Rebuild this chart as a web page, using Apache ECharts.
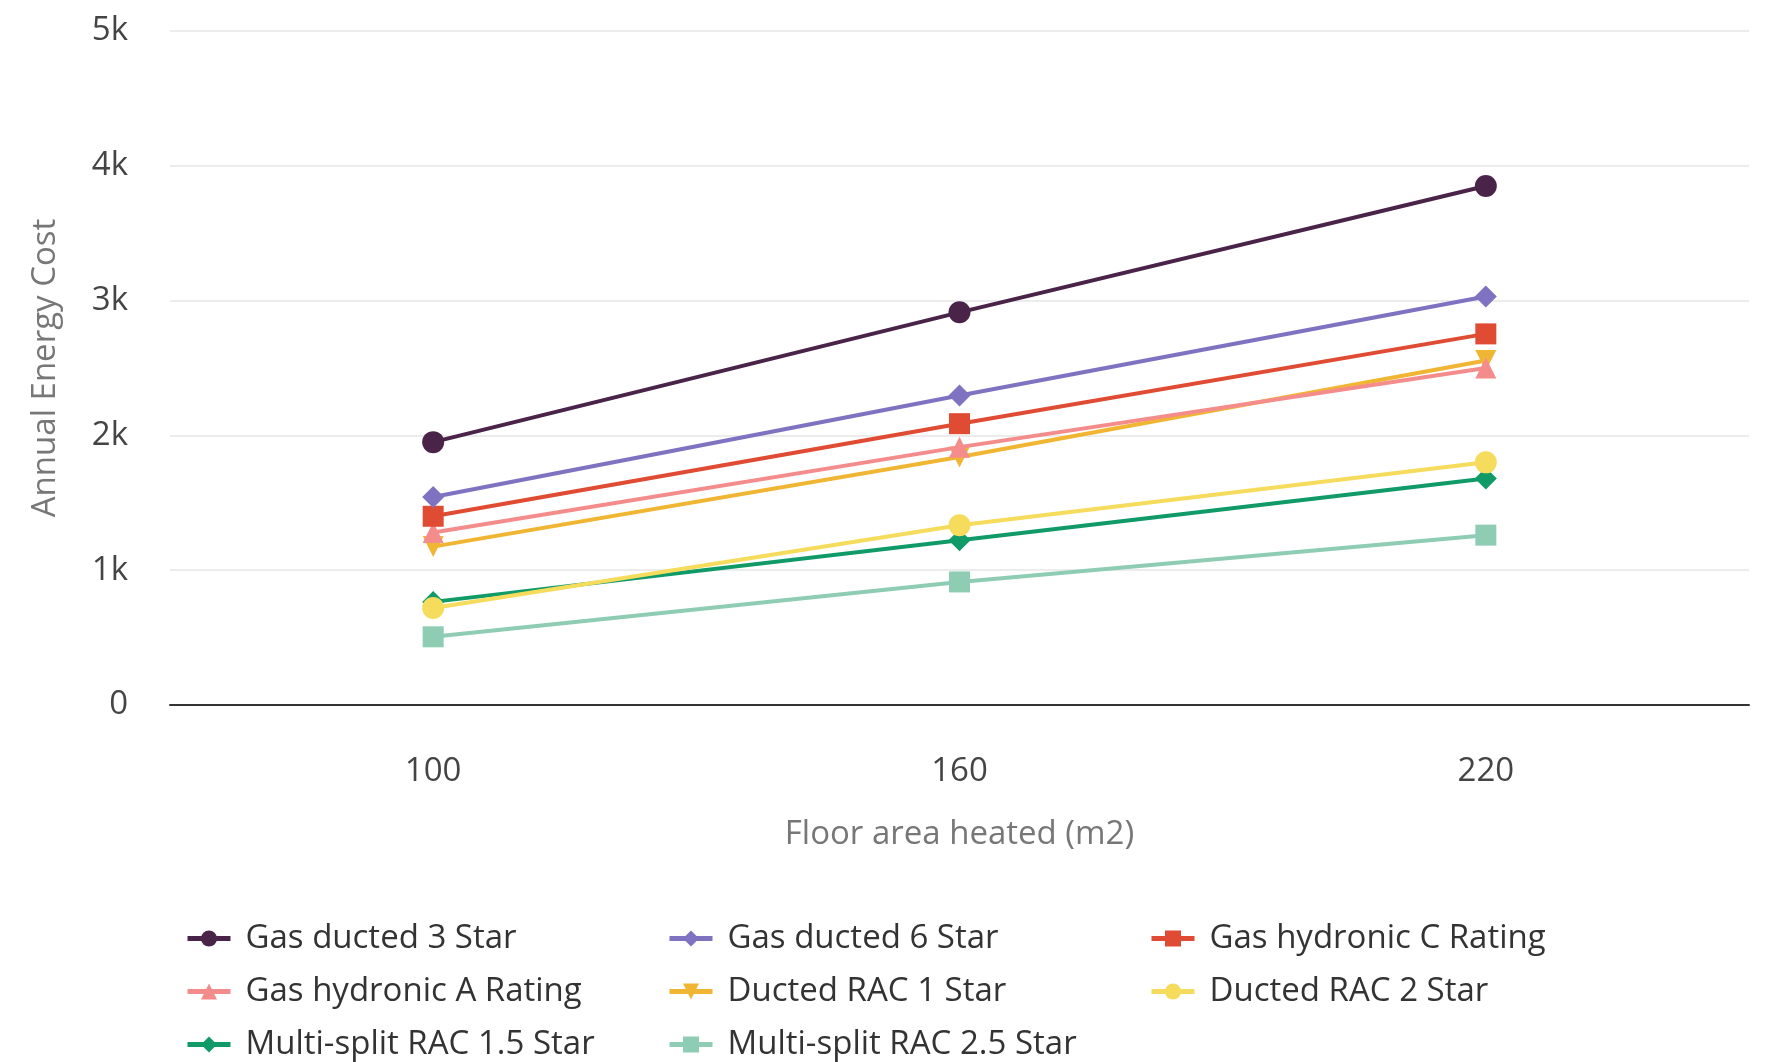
<!DOCTYPE html>
<html><head><meta charset="utf-8">
<script src="https://cdn.jsdelivr.net/npm/echarts@6/dist/echarts.min.js"></script>
<style>html,body{margin:0;padding:0;background:#fff}#c{width:1773px;height:1062px}</style>
</head><body><div id="c"></div>
<script>
const categories = ['100', '160', '220'];
const seriesNames = ['Gas ducted 3 Star','Gas ducted 6 Star','Gas hydronic C Rating','Gas hydronic A Rating','Ducted RAC 1 Star','Ducted RAC 2 Star','Multi-split RAC 1.5 Star','Multi-split RAC 2.5 Star'];
const gasDucted3 = [1950, 2913, 3850];
const gasDucted6 = [1543, 2296, 3030];
const gasHydronicC = [1400, 2087, 2753];
const gasHydronicA = [1280, 1913, 2500];
const ductedRAC1 = [1175, 1840, 2556];
const ductedRAC2 = [720, 1333, 1800];
const multiSplit15 = [765, 1222, 1680];
const multiSplit25 = [506, 913, 1260];
const yTicks = ['0','1k','2k','3k','4k','5k'];

const values = [gasDucted3, gasDucted6, gasHydronicC, gasHydronicA, ductedRAC1, ductedRAC2, multiSplit15, multiSplit25];
const colors = ['#4A2448','#7F72C0','#E04B33','#F48C8C','#F0B633','#F5DC5C','#0F9A68','#8ECDB4'];
const symbols = ['circle','diamond','rect','triangle','triangle','circle','diamond','rect'];
const rotates = [0,0,0,0,180,0,0,0];
const sizes = [22,22,21,21,21,22,22,21];
const FONT = '"Open Sans", "Noto Sans", sans-serif';

const series = seriesNames.map((n,i)=>({
  name:n, type:'line', data: values[i],
  symbol: symbols[i], symbolSize: sizes[i], symbolRotate: rotates[i],
  showSymbol:true,
  lineStyle:{width:4,color:colors[i]},
  itemStyle:{color:colors[i]},
  z: 10 - i
}));

// one legend per item, laid out in 3 columns x 3 rows
const legendLefts = [185, 667, 1149];
const legendTops = [922, 975, 1028];
const legends = seriesNames.map((n,i)=>({
  orient:'horizontal', left: legendLefts[i % 3], top: legendTops[Math.floor(i / 3)],
  padding: 0, itemWidth: 43, itemHeight: 20,
  data: [n],
  lineStyle:{width:5},
  textStyle:{fontFamily:FONT, fontSize:33, color:'#333', padding:[0,0,0,10]},
  selectedMode:false
}));

const chart = echarts.init(document.getElementById('c'));
chart.setOption({
  animation:false,
  color: colors,
  grid:{left:170, right:24, top:31, bottom:357, containLabel:false},
  xAxis:{
    type:'category', data: categories, boundaryGap:true,
    name:'Floor area heated (m2)', nameLocation:'middle', nameGap:113,
    nameTextStyle:{fontFamily:FONT, fontSize:33, color:'#777'},
    axisLine:{lineStyle:{color:'#333', width:2}},
    axisTick:{show:false},
    axisLabel:{fontFamily:FONT, fontSize:33, color:'#444', margin:50}
  },
  yAxis:{
    type:'value', min:0, max:5000, interval:1000,
    name:'Annual Energy Cost', nameLocation:'middle', nameGap:108, nameRotate:90,
    nameTextStyle:{fontFamily:FONT, fontSize:33, color:'#777'},
    axisLine:{show:false}, axisTick:{show:false},
    splitLine:{lineStyle:{color:'#e6e6e6', width:1.5}},
    axisLabel:{fontFamily:FONT, fontSize:33, color:'#444', margin:42,
      formatter:(v)=>yTicks[Math.round(v/1000)]}
  },
  legend: legends,
  series: series
});
</script></body></html>
